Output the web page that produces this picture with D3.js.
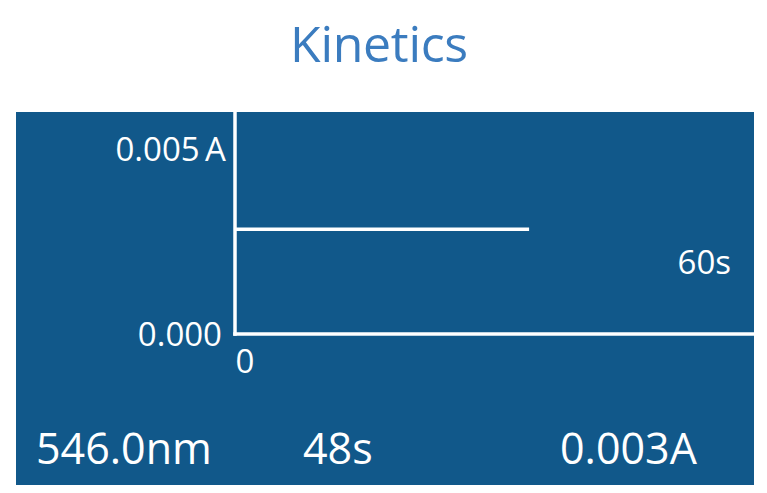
<!DOCTYPE html>
<html>
<head>
<meta charset="utf-8">
<script src="https://cdn.jsdelivr.net/npm/d3@7/dist/d3.min.js"></script>
<style>
  html, body { margin: 0; padding: 0; background: #ffffff; }
  svg { display: block; }
  text { font-family: "Open Sans", "Noto Sans", sans-serif; }
</style>
</head>
<body>
<svg id="chart" width="767" height="493"></svg>
<script>
// ---- data ----
const titleText = "Kinetics";
const timeSeconds = [0, 34];
const absorbance = [0.00283, 0.00283];
const yTickValues = [0, 0.005];
const yTickLabels = ["0.000", "0.005\u2009A"];
const xTickValues = [0];
const xTickLabels = ["0"];
const xMaxLabel = "60s";
const readouts = ["546.0nm", "48s", "0.003A"];

// ---- layout ----
const W = 767, H = 493;
const panel = { x: 16, y: 112, w: 738, h: 373 };
const panelColor = "#11588a";
const svg = d3.select("#chart");

svg.append("text")
  .attr("x", 379).attr("y", 61.5)
  .attr("text-anchor", "middle")
  .attr("fill", "#3b7cbf")
  .attr("font-size", 50)
  .attr("letter-spacing", -0.3)
  .text(titleText);

svg.append("rect")
  .attr("x", panel.x).attr("y", panel.y)
  .attr("width", panel.w).attr("height", panel.h)
  .attr("fill", panelColor);

const x = d3.scaleLinear().domain([0, 60]).range([235, 754]);
const y = d3.scaleLinear().domain([0, 0.005]).range([334, 149]);

// y axis labels
const yAxis = d3.axisLeft(y)
  .tickValues(yTickValues)
  .tickSize(0)
  .tickPadding(0)
  .tickFormat((d, i) => yTickLabels[i]);
const gy = svg.append("g").attr("transform", "translate(222,0)").call(yAxis);
gy.select(".domain").remove();
gy.selectAll("text")
  .attr("fill", "#ffffff")
  .attr("font-size", 33)
  .attr("font-family", "'Open Sans', sans-serif")
  .attr("dy", "0.36em");
gy.selectAll(".tick").filter((d) => d === 0.005).select("text").attr("x", 4);

// x axis labels
const xAxis = d3.axisBottom(x)
  .tickValues(xTickValues)
  .tickSize(0)
  .tickPadding(0)
  .tickFormat((d, i) => xTickLabels[i]);
const gx = svg.append("g").attr("transform", "translate(0,349)").call(xAxis);
gx.select(".domain").remove();
gx.selectAll("text")
  .attr("fill", "#ffffff")
  .attr("font-size", 33)
  .attr("font-family", "'Open Sans', sans-serif")
  .attr("text-anchor", "start")
  .attr("dy", "0.72em");

svg.append("text")
  .attr("x", 731).attr("y", 274)
  .attr("text-anchor", "end")
  .attr("fill", "#ffffff")
  .attr("font-size", 33)
  .text(xMaxLabel);

// axis lines
svg.append("line")
  .attr("x1", x(0)).attr("x2", x(0))
  .attr("y1", panel.y).attr("y2", y(0) + 1.75)
  .attr("stroke", "#ffffff").attr("stroke-width", 3.5);
svg.append("line")
  .attr("x1", x(0) - 1.75).attr("x2", x(60))
  .attr("y1", y(0)).attr("y2", y(0))
  .attr("stroke", "#ffffff").attr("stroke-width", 3.5);

// data line
const pts = timeSeconds.map((t, i) => [t, absorbance[i]]);
svg.append("path")
  .datum(pts)
  .attr("d", d3.line().x(d => x(d[0])).y(d => y(d[1])))
  .attr("fill", "none")
  .attr("stroke", "#ffffff")
  .attr("stroke-width", 3.5);

// readouts
const readoutX = [36, 303, 560];
svg.selectAll("text.readout")
  .data(readouts)
  .enter().append("text")
  .attr("class", "readout")
  .attr("x", (d, i) => readoutX[i])
  .attr("y", 463.5)
  .attr("fill", "#ffffff")
  .attr("font-size", 43)
  .text(d => d);
</script>
</body>
</html>
